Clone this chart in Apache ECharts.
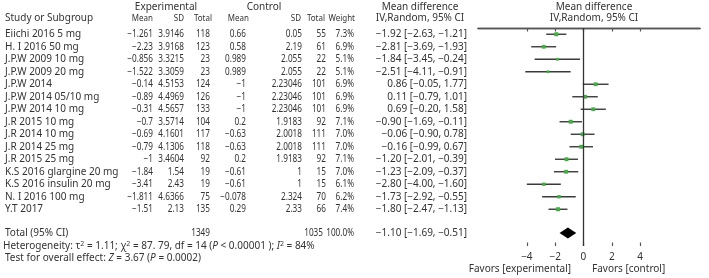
<!DOCTYPE html>
<html>
<head>
<meta charset="utf-8">
<script src="https://cdn.jsdelivr.net/npm/echarts@6/dist/echarts.min.js"></script>
<style>
  html, body { margin: 0; padding: 0; background: #fff; }
  #chart { width: 709px; height: 278px; }
</style>
</head>
<body>
<div id="chart"></div>
<script>
// study rows
const studies = [
    'Eiichi 2016 5 mg', 'H. I 2016 50 mg', 'J.P.W 2009 10 mg', 'J.P.W 2009 20 mg',
    'J.P.W 2014', 'J.P.W 2014 05/10 mg', 'J.P.W 2014 10 mg', 'J.R 2015 10 mg',
    'J.R 2014 10 mg', 'J.R 2014 25 mg', 'J.R 2015 25 mg', 'K.S 2016 glargine 20 mg',
    'K.S 2016 insulin 20 mg', 'N. I 2016 100 mg', 'Y.T 2017'
];
const expMean = [-1.261, -2.23, -0.856, -1.522, -0.14, -0.89, -0.31, -0.7, -0.69, -0.79, -1, -1.84, -3.41, -1.811, -1.51];
const expSD = [3.9146, 3.9168, 3.3215, 3.3059, 4.5153, 4.4969, 4.5657, 3.5714, 4.1601, 4.1306, 3.4604, 1.54, 2.43, 4.6366, 2.13];
const expN = [118, 123, 23, 23, 124, 126, 133, 104, 117, 118, 92, 19, 19, 75, 135];
const ctlMean = [0.66, 0.58, 0.989, 0.989, -1, -1, -1, 0.2, -0.63, -0.63, 0.2, -0.61, -0.61, -0.078, 0.29];
const ctlSD = [0.05, 2.19, 2.055, 2.055, 2.23046, 2.23046, 2.23046, 1.9183, 2.0018, 2.0018, 1.9183, 1, 1, 2.324, 2.33];
const ctlN = [55, 61, 22, 22, 101, 101, 101, 92, 111, 111, 92, 15, 15, 70, 66];
const weight = [7.3, 6.9, 5.1, 5.1, 6.9, 6.9, 6.9, 7.1, 7.0, 7.0, 7.1, 7.0, 6.1, 6.2, 7.4];
const meanDiff = [-1.92, -2.81, -1.84, -2.51, 0.86, 0.11, 0.69, -0.90, -0.06, -0.16, -1.20, -1.23, -2.80, -1.73, -1.80];
const ciLow = [-2.63, -3.69, -3.45, -4.11, -0.05, -0.79, -0.20, -1.69, -0.90, -0.99, -2.01, -2.09, -4.00, -2.92, -2.47];
const ciHigh = [-1.21, -1.93, -0.24, -0.91, 1.77, 1.01, 1.58, -0.11, 0.78, 0.67, -0.39, -0.37, -1.60, -0.55, -1.13];

// pooled result
const totalExpN = 1349;
const totalCtlN = 1035;
const totalWeight = 100.0;
const totalMD = -1.10;
const totalLow = -1.69;
const totalHigh = -0.51;

const axisTicks = [-4, -2, 0, 2, 4];
const X_MIN = -7.45;
const X_MAX = 8.23;

const FONT = '"Noto Sans"';
const TEXT = '#333';
const FS = 10;
const NUM_SCALE = 0.82;   // table figures are set narrower than the labels
const HDR_SCALE = 0.84;

// right edges of the table columns (px)
const col = { expMean: 153, expSD: 184, expN: 210, ctlMean: 246, ctlSD: 302, ctlN: 326, weight: 354, ci: 467 };

const ROW_Y = i => i + 0.5;   // rows on the value axis
const TOTAL_Y = 16.4;

const fmt = v => String(v).replace('-', '−');
const fix2 = v => fmt(v.toFixed(2));
const ciText = (m, l, h) => fix2(m) + ' [' + fix2(l) + ', ' + fix2(h) + ']';

function cell(text, x, y, align, scale) {
    return {
        type: 'text',
        x: x, y: y,
        scaleX: scale || 1,
        style: {
            text: text, x: 0, y: 0,
            align: align, verticalAlign: 'middle',
            textAlign: align, textVerticalAlign: 'middle',
            fontSize: FS, fontFamily: FONT, fill: TEXT
        }
    };
}
const num = (text, x, y) => cell(text, x, y, 'right', NUM_SCALE);

function renderTableRow(params, api) {
    const i = params.dataIndex;
    const y = api.coord([0, ROW_Y(i)])[1];
    return {
        type: 'group',
        children: [
            cell(studies[i], 5, y, 'left'),
            num(fmt(expMean[i]), col.expMean, y),
            num(fmt(expSD[i]), col.expSD, y),
            num(String(expN[i]), col.expN, y),
            num(fmt(ctlMean[i]), col.ctlMean, y),
            num(fmt(ctlSD[i]), col.ctlSD, y),
            num(String(ctlN[i]), col.ctlN, y),
            num(weight[i].toFixed(1) + '%', col.weight, y),
            cell(ciText(meanDiff[i], ciLow[i], ciHigh[i]), col.ci, y, 'right')
        ]
    };
}

function renderTotalRow(params, api) {
    const y = api.coord([0, TOTAL_Y])[1];
    return {
        type: 'group',
        children: [
            cell('Total (95% CI)', 5, y, 'left'),
            num(String(totalExpN), col.expN, y),
            num(String(totalCtlN), col.ctlN - 3, y),
            num(totalWeight.toFixed(1) + '%', col.weight, y),
            cell(ciText(totalMD, totalLow, totalHigh), col.ci, y, 'right')
        ]
    };
}

function renderStudy(params, api) {
    const y = api.value(4);
    const mid = api.coord([api.value(0), y]);
    const left = api.coord([api.value(1), y]);
    const right = api.coord([api.value(2), y]);
    const s = api.value(3) * 0.55;
    return {
        type: 'group',
        children: [
            {
                type: 'line',
                shape: { x1: left[0], y1: left[1], x2: right[0], y2: right[1] },
                style: { stroke: '#3a3a3a', lineWidth: 1.4 }
            },
            {
                type: 'rect',
                shape: { x: mid[0] - s / 2, y: mid[1] - s / 2, width: s, height: s },
                style: { fill: '#45ad45' }
            }
        ]
    };
}

function renderDiamond(params, api) {
    const y = api.value(3);
    const mid = api.coord([api.value(0), y]);
    const left = api.coord([api.value(1), y]);
    const right = api.coord([api.value(2), y]);
    const h = 5.5;
    return {
        type: 'polygon',
        shape: { points: [[left[0], mid[1]], [mid[0], mid[1] - h], [right[0], mid[1]], [mid[0], mid[1] + h]] },
        style: { fill: '#000' }
    };
}

const chart = echarts.init(document.getElementById('chart'));

const hdr = (text, x, y, align, scale, size) => ({
    type: 'text', x: x, y: y, scaleX: scale || 1,
    style: { text: text, align: align, verticalAlign: 'middle', fontSize: size || FS, fontFamily: FONT, fill: TEXT }
});
const colHdr = (text, x) => hdr(text, x, 18.5, 'right', HDR_SCALE, 9.5);

chart.setOption({
    animation: false,
    backgroundColor: '#fff',
    grid: { left: 478, right: 9, top: 28, bottom: 32 },
    xAxis: [
        {
            type: 'value', min: X_MIN, max: X_MAX, position: 'bottom',
            axisLine: { show: true, lineStyle: { color: '#555', width: 1.3 } },
            axisTick: { show: true, customValues: axisTicks, length: 3.5, lineStyle: { color: '#555', width: 1.2 } },
            axisLabel: { customValues: axisTicks, formatter: v => fmt(v), color: TEXT, fontSize: FS, fontFamily: FONT, margin: 6 },
            splitLine: { show: false }
        },
        {
            type: 'value', min: X_MIN, max: X_MAX, position: 'bottom',
            axisLine: { show: false },
            axisTick: { show: true, inside: true, customValues: axisTicks, length: 3.5, lineStyle: { color: '#555', width: 1.2 } },
            axisLabel: { show: false },
            splitLine: { show: false }
        },
        {
            type: 'value', min: X_MIN, max: X_MAX, position: 'top',
            axisLine: { show: true, lineStyle: { color: '#555', width: 1.3 } },
            axisTick: { show: false },
            axisLabel: { show: false },
            splitLine: { show: false }
        }
    ],
    yAxis: {
        type: 'value', min: 0, max: 17.44, inverse: true, show: false
    },
    series: [
        {
            type: 'custom',
            name: 'table',
            clip: false,
            silent: true,
            renderItem: renderTableRow,
            data: studies.map((s, i) => [0, ROW_Y(i)])
        },
        {
            type: 'custom',
            name: 'total',
            clip: false,
            silent: true,
            renderItem: renderTotalRow,
            data: [[0, TOTAL_Y]]
        },
        {
            type: 'custom',
            name: 'studies',
            renderItem: renderStudy,
            encode: { x: [0, 1, 2], y: 4 },
            data: meanDiff.map((m, i) => [m, ciLow[i], ciHigh[i], weight[i], ROW_Y(i)]),
            markLine: {
                silent: true,
                symbol: 'none',
                label: { show: false },
                lineStyle: { color: '#333', width: 1.3, type: 'solid' },
                data: [{ xAxis: 0 }]
            }
        },
        {
            type: 'custom',
            name: 'pooled',
            renderItem: renderDiamond,
            encode: { x: [0, 1, 2], y: 3 },
            data: [[totalMD, totalLow, totalHigh, TOTAL_Y]]
        }
    ],
    graphic: [
        hdr('Experimental', 166, 7, 'center'),
        hdr('Control', 264, 7, 'center'),
        hdr('Mean difference', 420, 7, 'center'),
        hdr('Mean difference', 594, 7, 'center'),
        hdr('Study or Subgroup', 5, 18.5, 'left'),
        colHdr('Mean', col.expMean),
        colHdr('SD', col.expSD),
        colHdr('Total', col.expN + 2),
        colHdr('Mean', col.ctlMean + 3),
        colHdr('SD', col.ctlSD - 1),
        colHdr('Total', col.ctlN - 1),
        colHdr('Weight', col.weight + 1),
        hdr('IV,Random, 95% CI', 420, 18.5, 'center'),
        hdr('IV,Random, 95% CI', 594, 18.5, 'center'),
        {
            type: 'text', x: 3, y: 246,
            style: {
                text: 'Heterogeneity: τ{sup|2} = 1.11; χ{sup|2} = 87. 79, df = 14 ({i|P} < 0.00001 ); {i|I}{sup|2} = 84%',
                verticalAlign: 'middle', fontSize: FS, fontFamily: FONT, fill: TEXT,
                rich: {
                    sup: { fontSize: 7, fontFamily: FONT, fill: TEXT, verticalAlign: 'top', lineHeight: 12 },
                    i: { fontSize: FS, fontFamily: FONT, fill: TEXT, fontStyle: 'italic', lineHeight: 12 }
                }
            }
        },
        {
            type: 'text', x: 5, y: 258.5,
            style: {
                text: 'Test for overall effect: {i|Z} = 3.67 ({i|P} = 0.0002)',
                verticalAlign: 'middle', fontSize: FS, fontFamily: FONT, fill: TEXT,
                rich: { i: { fontSize: FS, fontFamily: FONT, fill: TEXT, fontStyle: 'italic' } }
            }
        },
        hdr('Favors [experimental]', 571, 269.5, 'right'),
        hdr('Favors [control]', 592, 269.5, 'left')
    ]
});
</script>
</body>
</html>
